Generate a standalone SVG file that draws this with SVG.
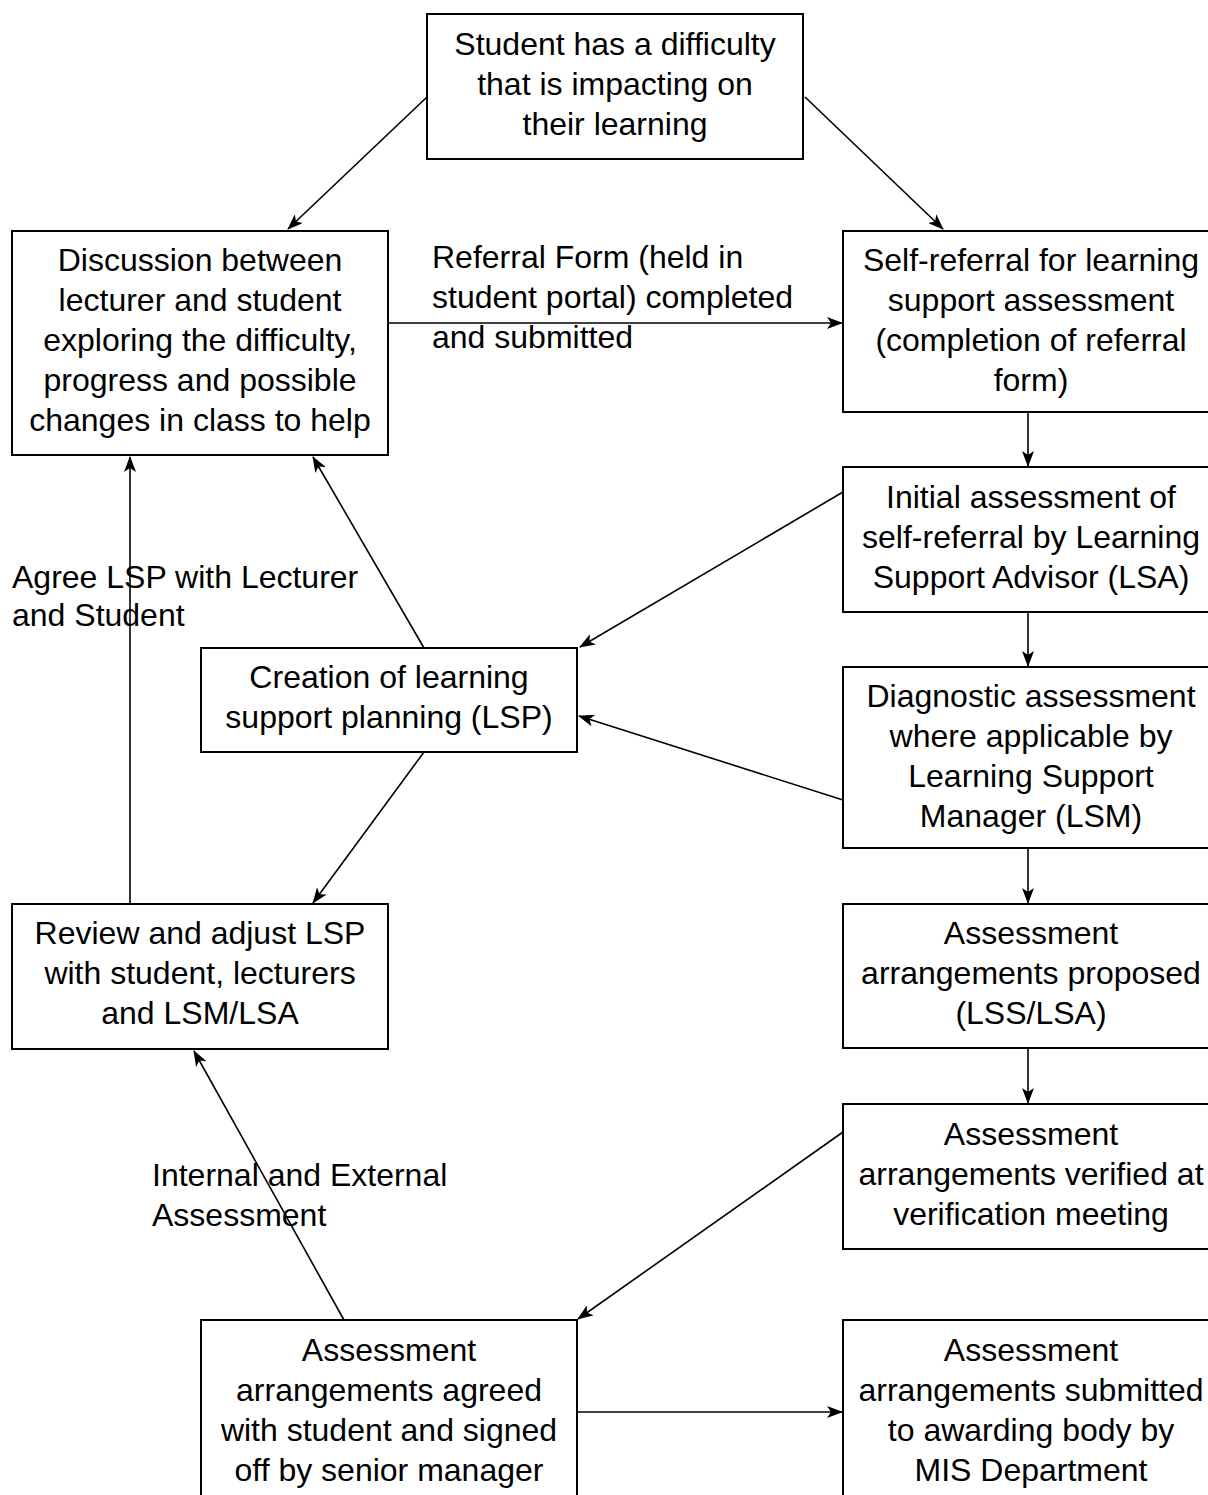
<svg xmlns="http://www.w3.org/2000/svg" width="1208" height="1495" viewBox="0 0 1208 1495">
<style>
.box{fill:#fff;stroke:#000;stroke-width:2}
.t{font-family:"Liberation Sans",Arial,sans-serif;font-size:32px;fill:#000;text-anchor:middle}
.l{font-family:"Liberation Sans",Arial,sans-serif;font-size:32px;fill:#000}
.c{stroke:#000;stroke-width:1.6;fill:none;marker-end:url(#a)}
</style>
<defs>
<marker id="a" markerWidth="16" markerHeight="12" refX="15" refY="6" orient="auto" markerUnits="userSpaceOnUse">
<path d="M0,0 L16,6 L0,12 L4,6 Z" fill="#000"/>
</marker>
</defs>
<rect width="1208" height="1495" fill="#fff"/>
<g id="connectors">
<line class="c" x1="427" y1="97" x2="288" y2="229"/>
<line class="c" x1="805" y1="97" x2="943" y2="229"/>
<line class="c" x1="388" y1="323" x2="842" y2="323"/>
<line class="c" x1="1028" y1="412" x2="1028" y2="466"/>
<line class="c" x1="843" y1="492" x2="580" y2="647"/>
<line class="c" x1="1028" y1="612" x2="1028" y2="666"/>
<line class="c" x1="843" y1="800" x2="579" y2="716"/>
<line class="c" x1="424" y1="648" x2="313" y2="457"/>
<line class="c" x1="424" y1="752" x2="313" y2="903"/>
<line class="c" x1="130" y1="904" x2="130" y2="457"/>
<line class="c" x1="1028" y1="848" x2="1028" y2="903"/>
<line class="c" x1="1028" y1="1048" x2="1028" y2="1103"/>
<line class="c" x1="843" y1="1132" x2="578" y2="1319"/>
<line class="c" x1="344" y1="1320" x2="194" y2="1051"/>
<line class="c" x1="577" y1="1412" x2="842" y2="1412"/>
</g>
<g id="lbl-referral">
<text class="l" x="432" y="268">Referral Form (held in</text>
<text class="l" x="432" y="308">student portal) completed</text>
<text class="l" x="432" y="348">and submitted</text>
</g>
<g id="lbl-agree">
<text class="l" x="12" y="588">Agree LSP with Lecturer</text>
<text class="l" x="12" y="626">and Student</text>
</g>
<g id="lbl-internal">
<text class="l" x="152" y="1186">Internal and External</text>
<text class="l" x="152" y="1226">Assessment</text>
</g>
<g id="n-start">
<rect class="box" x="427" y="14" width="376" height="145"/>
<text class="t" x="615" y="55">Student has a difficulty</text>
<text class="t" x="615" y="95">that is impacting on</text>
<text class="t" x="615" y="135">their learning</text>
</g>
<g id="n-discussion">
<rect class="box" x="12" y="231" width="376" height="224"/>
<text class="t" x="200" y="271">Discussion between</text>
<text class="t" x="200" y="311">lecturer and student</text>
<text class="t" x="200" y="351">exploring the difficulty,</text>
<text class="t" x="200" y="391">progress and possible</text>
<text class="t" x="200" y="431">changes in class to help</text>
</g>
<g id="n-self">
<rect class="box" x="843" y="231" width="376" height="181"/>
<text class="t" x="1031" y="271">Self-referral for learning</text>
<text class="t" x="1031" y="311">support assessment</text>
<text class="t" x="1031" y="351">(completion of referral</text>
<text class="t" x="1031" y="391">form)</text>
</g>
<g id="n-initial">
<rect class="box" x="843" y="467" width="376" height="145"/>
<text class="t" x="1031" y="508">Initial assessment of</text>
<text class="t" x="1031" y="548">self-referral by Learning</text>
<text class="t" x="1031" y="588">Support Advisor (LSA)</text>
</g>
<g id="n-creation">
<rect class="box" x="201" y="648" width="376" height="104"/>
<text class="t" x="389" y="688">Creation of learning</text>
<text class="t" x="389" y="728">support planning (LSP)</text>
</g>
<g id="n-diagnostic">
<rect class="box" x="843" y="667" width="376" height="181"/>
<text class="t" x="1031" y="707">Diagnostic assessment</text>
<text class="t" x="1031" y="747">where applicable by</text>
<text class="t" x="1031" y="787">Learning Support</text>
<text class="t" x="1031" y="827">Manager (LSM)</text>
</g>
<g id="n-review">
<rect class="box" x="12" y="904" width="376" height="145"/>
<text class="t" x="200" y="944">Review and adjust LSP</text>
<text class="t" x="200" y="984">with student, lecturers</text>
<text class="t" x="200" y="1024">and LSM/LSA</text>
</g>
<g id="n-proposed">
<rect class="box" x="843" y="904" width="376" height="144"/>
<text class="t" x="1031" y="944">Assessment</text>
<text class="t" x="1031" y="984">arrangements proposed</text>
<text class="t" x="1031" y="1024">(LSS/LSA)</text>
</g>
<g id="n-verified">
<rect class="box" x="843" y="1104" width="376" height="145"/>
<text class="t" x="1031" y="1145">Assessment</text>
<text class="t" x="1031" y="1185">arrangements verified at</text>
<text class="t" x="1031" y="1225">verification meeting</text>
</g>
<g id="n-agreed">
<rect class="box" x="201" y="1320" width="376" height="190"/>
<text class="t" x="389" y="1361">Assessment</text>
<text class="t" x="389" y="1401">arrangements agreed</text>
<text class="t" x="389" y="1441">with student and signed</text>
<text class="t" x="389" y="1481">off by senior manager</text>
</g>
<g id="n-submitted">
<rect class="box" x="843" y="1320" width="376" height="190"/>
<text class="t" x="1031" y="1361">Assessment</text>
<text class="t" x="1031" y="1401">arrangements submitted</text>
<text class="t" x="1031" y="1441">to awarding body by</text>
<text class="t" x="1031" y="1481">MIS Department</text>
</g>
</svg>
